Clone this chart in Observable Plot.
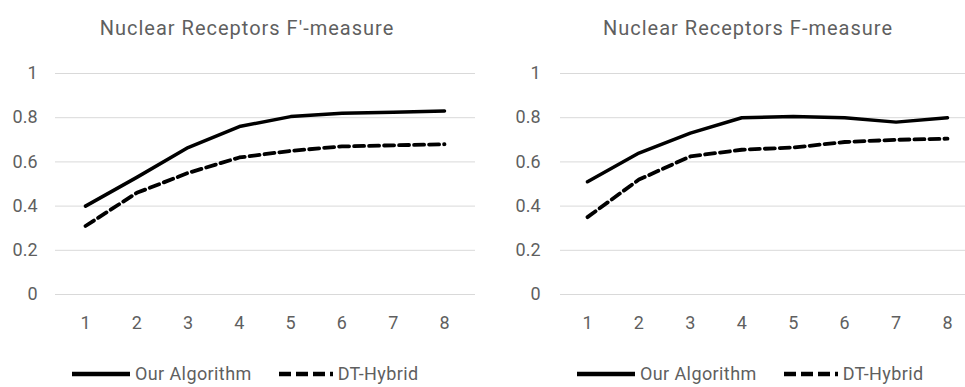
<!DOCTYPE html>
<html>
<head>
<meta charset="utf-8">
<script src="https://cdn.jsdelivr.net/npm/d3@7"></script>
<script src="https://cdn.jsdelivr.net/npm/@observablehq/plot@0.6"></script>
<style>
  html, body { margin: 0; padding: 0; background: #fff; }
  body { width: 965px; height: 387px; position: relative; overflow: hidden;
         font-family: "Roboto", "Liberation Sans", sans-serif; color: #5f5f5f; }
  .panel { position: absolute; top: 0; height: 387px; }
  .title { position: absolute; top: 16px; font-size: 20px; white-space: nowrap; transform: translateX(-50%); letter-spacing: 1px; }
  .legend { position: absolute; top: 363px; font-size: 18px; display: flex; align-items: center; white-space: nowrap; letter-spacing: 0.4px; }
  .legend .item { display: flex; align-items: center; }
  .legend svg { display: block; }
</style>
</head>
<body>
<script>
const steps = [1, 2, 3, 4, 5, 6, 7, 8];
const yTicks = [0, 0.2, 0.4, 0.6, 0.8, 1];
const seriesNames = ["Our Algorithm", "DT-Hybrid"];
const titles = ["Nuclear Receptors F'-measure", "Nuclear Receptors F-measure"];

const ourFprime = [0.40, 0.53, 0.665, 0.76, 0.805, 0.82, 0.825, 0.83];
const dtFprime  = [0.31, 0.46, 0.55, 0.62, 0.65, 0.67, 0.675, 0.68];
const ourF      = [0.51, 0.64, 0.73, 0.80, 0.805, 0.80, 0.78, 0.80];
const dtF       = [0.35, 0.52, 0.625, 0.655, 0.665, 0.69, 0.70, 0.705];

const FONT = '"Roboto", "Liberation Sans", sans-serif';

function rows(ours, dt) {
  return [
    ...steps.map((s, i) => ({x: s, y: ours[i], series: seriesNames[0]})),
    ...steps.map((s, i) => ({x: s, y: dt[i], series: seriesNames[1]}))
  ];
}

const panels = [
  {left: 0, width: 482, marginLeft: 55, marginRight: 7, xRange: [85, 444], tickPad: 18,
   titleX: 247, ours: ourFprime, dt: dtFprime, legendLeft: 72},
  {left: 485, width: 480, marginLeft: 75, marginRight: 0, xRange: [102, 462], tickPad: 20,
   titleX: 263, ours: ourF, dt: dtF, legendLeft: 92}
];

panels.forEach((p, k) => {
  const div = document.createElement("div");
  div.className = "panel";
  div.style.left = p.left + "px";
  div.style.width = p.width + "px";
  document.body.appendChild(div);

  const data = rows(p.ours, p.dt);
  const chart = Plot.plot({
    width: p.width,
    height: 387,
    marginTop: 73,
    marginBottom: 93,
    marginLeft: p.marginLeft,
    marginRight: p.marginRight,
    style: {fontFamily: FONT, fontSize: "18px", color: "#5f5f5f", background: "transparent"},
    x: {domain: [1, 8], range: p.xRange, ticks: steps, label: null},
    y: {domain: [0, 1], label: null},
    marks: [
      Plot.ruleY(yTicks, {stroke: "#d9d9d9", strokeWidth: 1}),
      Plot.axisY(yTicks, {tickSize: 0, tickPadding: p.tickPad, tickFormat: d => String(d), fill: "#5f5f5f", fontSize: 18, label: null, letterSpacing: "1px"}),
      Plot.axisX(steps, {tickSize: 0, tickPadding: 22, tickFormat: d => String(d), fill: "#5f5f5f", fontSize: 18, label: null}),
      Plot.line(data.filter(d => d.series === seriesNames[0]), {x: "x", y: "y", stroke: "#000", strokeWidth: 3.5, strokeLinejoin: "round", curve: "linear"}),
      Plot.line(data.filter(d => d.series === seriesNames[1]), {x: "x", y: "y", stroke: "#000", strokeWidth: 3.8, strokeDasharray: "10,5", curve: "linear"})
    ]
  });
  chart.style.position = "absolute";
  chart.style.left = "0px";
  chart.style.top = "0px";
  div.appendChild(chart);

  const t = document.createElement("div");
  t.className = "title";
  t.style.left = p.titleX + "px";
  t.textContent = titles[k];
  div.appendChild(t);

  const lg = document.createElement("div");
  lg.className = "legend";
  lg.style.left = p.legendLeft + "px";
  const swatch = (dash, len) => `<svg width="${len}" height="10"><line x1="0" y1="5" x2="${len}" y2="5" stroke="#000" stroke-width="4.5" ${dash ? 'stroke-dasharray="12,5"' : ''}/></svg>`;
  lg.innerHTML =
    `<span class="item">${swatch(false, 58)}<span style="margin-left:5px">${seriesNames[0]}</span></span>` +
    `<span class="item" style="margin-left:27px">${swatch(true, 54)}<span style="margin-left:5px">${seriesNames[1]}</span></span>`;
  div.appendChild(lg);
});
</script>
</body>
</html>
